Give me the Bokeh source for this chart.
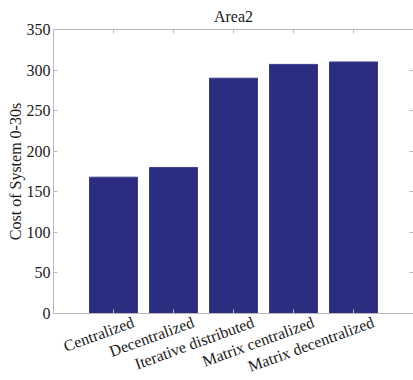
from bokeh.plotting import figure
from bokeh.models import (ColumnDataSource, LinearAxis, Range1d, FixedTicker,
                          LabelSet, Label)
from bokeh.embed import file_html
from bokeh.resources import INLINE
import math

# Data
methods = ["Centralized", "Decentralized", "Iterative distributed",
           "Matrix centralized", "Matrix decentralized"]
cost = [168, 180, 290, 307, 310]
positions = [1, 2, 3, 4, 5]
y_ticks = [0, 50, 100, 150, 200, 250, 300, 350]
title = "Area2"
y_label = "Cost of System 0-30s"

FONT = "Liberation Serif"
TEXT = "#1a1a1a"
AXIS = "#b8b8b8"
BAR = "#2b2d80"

X_MIN, X_MAX = 0, 6
Y_MIN, Y_MAX = 0, 350
PX_X = 60.0      # pixels per category step
PX_Y = 284 / 350  # pixels per cost unit

src = ColumnDataSource(dict(x=positions, y=cost, name=methods,
                            base=[0] * len(cost)))

# The frame fills the whole page; the axes are pinned with fixed locations
# and bounds so the box spans 0..6 by 0..350, and the title, the slanted
# names and the rotated axis title are all drawn inside the frame.
p = figure(width=413, height=380, output_backend="svg", toolbar_location=None,
           x_range=Range1d(X_MIN - 53 / PX_X, X_MAX),
           y_range=Range1d(Y_MIN - 67 / PX_Y, Y_MAX + 29 / PX_Y),
           min_border=0)
p.background_fill_color = "white"
p.border_fill_color = "white"
p.outline_line_color = None
p.grid.visible = False

p.vbar(x="x", top="y", width=0.8, source=src, fill_color=BAR,
       line_color="#3a3d8c", line_width=1)


def style_axis(ax, labels=True):
    ax.axis_line_color = AXIS
    ax.major_tick_line_color = AXIS
    ax.major_tick_in = 4
    ax.major_tick_out = 0
    ax.minor_tick_line_color = None
    ax.major_label_text_font = FONT
    ax.major_label_text_font_size = "16px"
    ax.major_label_text_color = TEXT if labels else None
    ax.major_label_standoff = 3


yax = p.yaxis[0]
style_axis(yax)
yax.ticker = FixedTicker(ticks=y_ticks)
yax.bounds = (Y_MIN, Y_MAX)
yax.fixed_location = X_MIN

xax = p.xaxis[0]
style_axis(xax, labels=False)
xax.ticker = FixedTicker(ticks=positions)
xax.bounds = (X_MIN, X_MAX)
xax.fixed_location = Y_MIN

top = LinearAxis(ticker=FixedTicker(ticks=positions), fixed_location=Y_MAX,
                 bounds=(X_MIN, X_MAX))
style_axis(top, labels=False)
p.add_layout(top, "above")

right = LinearAxis(ticker=FixedTicker(ticks=y_ticks), fixed_location=X_MAX,
                   bounds=(Y_MIN, Y_MAX))
style_axis(right, labels=False)
p.add_layout(right, "right")

# chart title, centred over the box
p.add_layout(Label(x=(X_MIN + X_MAX) / 2, y=Y_MAX, y_offset=13, text=title,
                   text_align="center", text_baseline="alphabetic",
                   text_font=FONT, text_font_size="16px", text_color=TEXT))

# rotated axis title, centred on the value range
p.add_layout(Label(x=X_MIN - 38 / PX_X, y=(Y_MIN + Y_MAX) / 2, text=y_label,
                   angle=math.pi / 2, text_align="center",
                   text_baseline="middle", text_font=FONT,
                   text_font_size="16px", text_color=TEXT))

# slanted category names hung below the zero line
names = LabelSet(x="x", y="base", text="name", source=src,
                 angle=math.radians(20), text_align="right",
                 text_baseline="top", x_offset=17, y_offset=0,
                 text_font=FONT, text_font_size="16px", text_color=TEXT)
p.add_layout(names)

open("out.html", "w").write(file_html(p, INLINE))
